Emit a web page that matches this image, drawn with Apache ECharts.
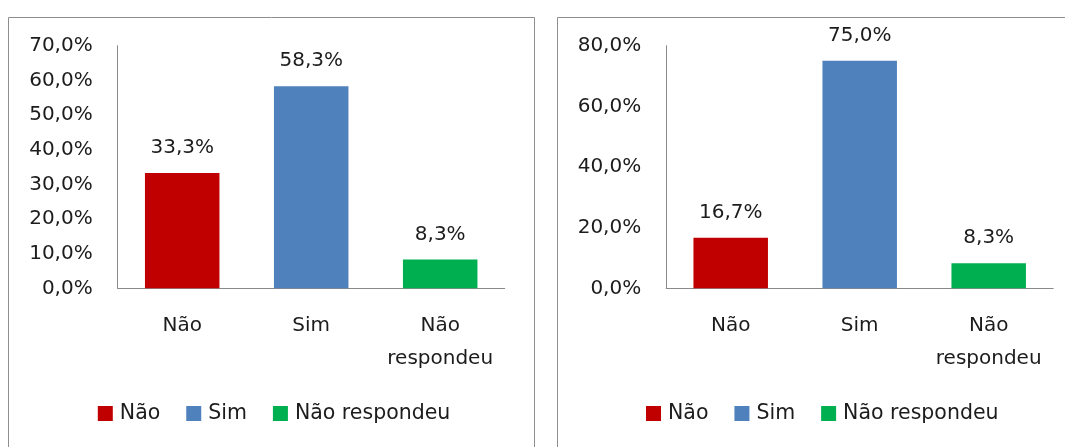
<!DOCTYPE html>
<html>
<head>
<meta charset="utf-8">
<script src="https://cdn.jsdelivr.net/npm/echarts@6/dist/echarts.min.js"></script>
<style>
html,body{margin:0;padding:0;background:#fff;}
#c{width:1065px;height:447px;}
</style>
</head>
<body>
<div id="c"></div>
<script>
const categories = ['Não', 'Sim', 'Não respondeu'];
const leftValues = [33.3, 58.3, 8.3];
const rightValues = [16.7, 75.0, 8.3];
const leftTicks = {min: 0, max: 70, interval: 10};
const rightTicks = {min: 0, max: 80, interval: 20};
const colors = ['#C00000', '#4F81BD', '#00B050'];

const FONT = 'DejaVu Sans';
const TXT = '#1c1c1c';
const AX = '#8a8a8a';
const fmt = v => Number(v).toFixed(1).replace('.', ',') + '%';

function makeSeries(values, axisIdx) {
  return categories.map((name, i) => ({
    name: name,
    type: 'bar',
    xAxisIndex: axisIdx,
    yAxisIndex: axisIdx,
    barWidth: 74.5,
    barGap: '-100%',
    itemStyle: {color: colors[i]},
    label: {
      show: true, position: 'top', distance: 15,
      fontFamily: FONT, fontSize: 20, color: TXT,
      formatter: p => fmt(p.value)
    },
    data: categories.map((c, j) => j === i ? values[i] : '-'),
    animation: false
  }));
}

function xAxis(idx) {
  return {
    type: 'category', gridIndex: idx, data: categories,
    axisLine: {lineStyle: {color: AX, width: 1}},
    axisTick: {show: false},
    axisLabel: {
      fontFamily: FONT, fontSize: 20, color: TXT, margin: 21, lineHeight: 33,
      interval: 0, formatter: v => v.replace(' ', '\n')
    }
  };
}
function yAxis(idx, t) {
  return {
    type: 'value', gridIndex: idx, min: t.min, max: t.max, interval: t.interval,
    axisLine: {show: true, lineStyle: {color: AX, width: 1}},
    axisTick: {show: false},
    splitLine: {show: false},
    axisLabel: {fontFamily: FONT, fontSize: 20, color: TXT, margin: 25, formatter: v => fmt(v)}
  };
}
function legend(left) {
  return {
    data: categories, left: left, top: 398, icon: 'rect',
    itemWidth: 15, itemHeight: 15, itemGap: 26,
    textStyle: {fontFamily: FONT, fontSize: 20.5, color: TXT, padding: [0, 0, 0, 2]},
    selectedMode: false
  };
}

const chart = echarts.init(document.getElementById('c'), null, {renderer: 'canvas'});
chart.setOption({
  backgroundColor: '#fff',
  animation: false,
  graphic: [
    {type: 'rect', shape: {x: 8.5, y: 17.5, width: 526, height: 500}, style: {fill: 'none', stroke: '#8e8e8e', lineWidth: 1}, z: -1},
    {type: 'rect', shape: {x: 557.5, y: 17.5, width: 600, height: 500}, style: {fill: 'none', stroke: '#8e8e8e', lineWidth: 1}, z: -1}
  ],
  grid: [
    {left: 117.7, top: 45.7, width: 387, height: 242.6},
    {left: 666.2, top: 45.7, width: 387, height: 242.6}
  ],
  legend: [legend(92.8), legend(641)],
  xAxis: [xAxis(0), xAxis(1)],
  yAxis: [yAxis(0, leftTicks), yAxis(1, rightTicks)],
  series: makeSeries(leftValues, 0).concat(makeSeries(rightValues, 1))
});
</script>
</body>
</html>
